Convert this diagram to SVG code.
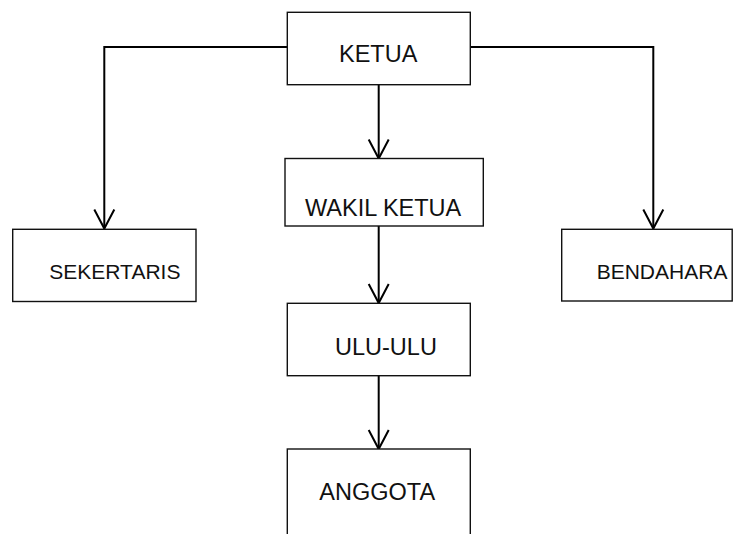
<svg xmlns="http://www.w3.org/2000/svg" width="733" height="534" viewBox="0 0 733 534">
<style>
.box{fill:#fff;stroke:#111;stroke-width:1.4}
.lbl{font-family:"Liberation Sans",Arial,sans-serif;fill:#111}
.c{font-size:23.5px}
.s{font-size:21px}
.ln{fill:none;stroke:#000;stroke-width:2}
</style>
<defs>
<marker id="arr" markerUnits="userSpaceOnUse" viewBox="-22 -12 24 24" refX="0" refY="0" markerWidth="24" markerHeight="24" orient="auto" overflow="visible">
<path d="M-19,-10 L0,0 L-19,10" fill="none" stroke="#000" stroke-width="2"/>
</marker>
</defs>
<rect width="733" height="534" fill="#fff"/>
<g id="connectors">
<path class="ln" d="M287.3,47 H104.3 V228.5" marker-end="url(#arr)"/>
<path class="ln" d="M470.3,47 H653.3 V228.5" marker-end="url(#arr)"/>
<path class="ln" d="M378.7,84.7 V158.5" marker-end="url(#arr)"/>
<path class="ln" d="M378.7,226 V303" marker-end="url(#arr)"/>
<path class="ln" d="M378.7,376 V449" marker-end="url(#arr)"/>
</g>
<g id="ketua">
<rect class="box" x="287.3" y="12.3" width="183" height="72.4"/>
<text class="lbl c" x="339" y="62.3">KETUA</text>
</g>
<g id="wakil-ketua">
<rect class="box" x="285" y="158.5" width="198.3" height="67.5"/>
<text class="lbl c" x="305" y="216">WAKIL KETUA</text>
</g>
<g id="sekertaris">
<rect class="box" x="12.7" y="229.3" width="183.3" height="72.2"/>
<text class="lbl s" x="49.3" y="279">SEKERTARIS</text>
</g>
<g id="bendahara">
<rect class="box" x="561.7" y="229.3" width="170.5" height="71.7"/>
<text class="lbl s" x="596.7" y="279">BENDAHARA</text>
</g>
<g id="ulu-ulu">
<rect class="box" x="287.3" y="303.3" width="183" height="72.4"/>
<text class="lbl c" x="335" y="355">ULU-ULU</text>
</g>
<g id="anggota">
<rect class="box" x="287.3" y="449" width="183" height="95"/>
<text class="lbl c" x="319.3" y="500">ANGGOTA</text>
</g>
</svg>
